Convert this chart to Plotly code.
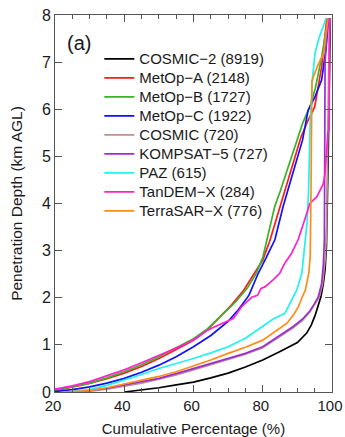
import plotly.graph_objects as go

names = ["COSMIC−2 (8919)", "MetOp−A (2148)", "MetOp−B (1727)", "MetOp−C (1922)",
         "COSMIC (720)", "KOMPSAT−5 (727)", "PAZ (615)", "TanDEM−X (284)", "TerraSAR−X (776)"]
colors = ["#000000", "#ff1a1a", "#3cb22c", "#1010ff", "#bf8f8f", "#9a2fd0", "#22f2f2", "#ff22cc", "#ff8c1a"]

cosmic2_x = [40, 45, 50, 55, 60, 65, 70, 75, 80, 85, 88, 90, 92.7, 94, 95.1, 96, 96.8, 97.5, 98.0, 98.4, 98.7, 98.9, 99.1, 99.3, 99.5]
cosmic2_y = [0, 0.04, 0.09, 0.15, 0.21, 0.3, 0.4, 0.53, 0.68, 0.86, 0.97, 1.05, 1.25, 1.42, 1.62, 1.82, 2.02, 2.3, 2.6, 3.1, 4.0, 5.0, 6.0, 7.0, 7.93]

metopa_x = [20, 25, 30, 35, 40, 45, 50, 55, 60, 64, 68, 71, 74.5, 78, 80, 82, 85, 88, 91, 93, 95, 97, 98.5]
metopa_y = [0.03, 0.1, 0.18, 0.28, 0.4, 0.54, 0.71, 0.9, 1.1, 1.32, 1.62, 1.85, 2.16, 2.55, 2.8, 3.2, 3.95, 4.7, 5.4, 5.75, 6.05, 6.9, 7.93]

metopb_x = [20, 25, 30, 35, 40, 45, 50, 55, 60, 64, 68.5, 72, 75.5, 78, 80, 81.5, 83.5, 85, 87, 89.5, 91.5, 93.6, 95.2, 97, 98.9]
metopb_y = [0.04, 0.11, 0.19, 0.3, 0.43, 0.58, 0.75, 0.94, 1.13, 1.34, 1.65, 1.9, 2.2, 2.5, 2.85, 3.3, 3.95, 4.25, 4.7, 5.3, 5.7, 6.05, 6.45, 7.1, 7.93]

metopc_x = [20, 25, 30, 35, 40, 45, 50, 55, 60, 65, 70, 73, 76, 78.7, 81, 83.5, 85.9, 88.7, 91.5, 93.1, 95, 97, 98.3, 99]
metopc_y = [0.01, 0.05, 0.11, 0.19, 0.29, 0.42, 0.57, 0.75, 0.96, 1.2, 1.5, 1.75, 2.05, 2.52, 2.85, 3.23, 3.94, 4.65, 5.35, 5.98, 6.25, 6.62, 7.3, 7.93]

cosmic_x = [25, 30, 35, 40, 45, 50, 55, 60, 65, 70, 75, 80, 85, 88.8, 91.5, 93.6, 95, 96.3, 97.3, 98.0, 98.4, 98.6, 98.8, 99.1, 99.4]
cosmic_y = [0, 0.02, 0.06, 0.12, 0.19, 0.27, 0.36, 0.47, 0.58, 0.69, 0.8, 0.94, 1.17, 1.36, 1.52, 1.7, 1.86, 2.01, 2.3, 2.8, 3.3, 4.5, 6.0, 7.2, 7.93]

kompsat_x = [25, 30, 35, 40, 45, 50, 55, 60, 65, 70, 75, 80, 85, 88.8, 91.5, 93.6, 95, 96.0, 97.0, 97.5, 97.8, 97.9, 98.0, 98.5, 99.0]
kompsat_y = [0, 0.03, 0.08, 0.15, 0.22, 0.29, 0.39, 0.5, 0.6, 0.71, 0.82, 0.96, 1.2, 1.39, 1.55, 1.72, 1.88, 2.01, 2.3, 2.7, 3.23, 4.5, 7.0, 7.6, 7.93]

paz_x = [23, 26, 30, 35, 40, 45, 50, 55, 60, 65, 70, 75, 80, 83, 86.4, 88, 89.8, 91.3, 91.8, 92.3, 92.8, 93.2, 93.5, 93.7, 94.4, 95.1, 96.2, 97, 98.3]
paz_y = [0, 0.02, 0.05, 0.14, 0.25, 0.37, 0.5, 0.6, 0.71, 0.83, 0.96, 1.14, 1.39, 1.55, 1.67, 1.9, 2.16, 2.52, 2.87, 3.23, 3.6, 4.2, 5.0, 5.7, 6.69, 7.19, 7.5, 7.68, 7.93]

tandem_x = [20, 25, 30, 35, 40, 45, 50, 55, 58, 61, 63.8, 66, 68.5, 71.5, 73.9, 76.8, 78.5, 79.5, 80.6, 83, 84.9, 86.5, 88.3, 90.2, 92.1, 93.6, 95.6, 97.5, 98.0, 98.5, 98.8, 99.2, 99.3]
tandem_y = [0.06, 0.13, 0.22, 0.34, 0.47, 0.62, 0.78, 0.93, 1.03, 1.15, 1.3, 1.38, 1.46, 1.56, 1.81, 2.01, 2.05, 2.2, 2.23, 2.38, 2.52, 2.75, 2.94, 3.23, 3.65, 4.0, 4.14, 4.42, 4.65, 5.3, 5.5, 5.6, 7.93]

terrasar_x = [22.5, 26, 30, 35, 40, 45, 50, 55, 60, 65, 70, 75, 80, 84, 87, 89, 90.3, 91.3, 92.3, 93.3, 93.7, 93.9, 94, 94.2, 95.7, 97.6, 98.3, 98.8]
terrasar_y = [0, 0.01, 0.03, 0.09, 0.17, 0.25, 0.33, 0.43, 0.55, 0.68, 0.82, 0.95, 1.1, 1.3, 1.46, 1.65, 1.81, 2.0, 2.16, 2.52, 2.87, 4.0, 5.35, 6.6, 6.9, 7.19, 7.6, 7.93]

xs = [cosmic2_x, metopa_x, metopb_x, metopc_x, cosmic_x, kompsat_x, paz_x, tandem_x, terrasar_x]
ys = [cosmic2_y, metopa_y, metopb_y, metopc_y, cosmic_y, kompsat_y, paz_y, tandem_y, terrasar_y]

x_ticks = [20, 40, 60, 80, 100]
y_ticks = [0, 1, 2, 3, 4, 5, 6, 7, 8]

fig = go.Figure()
for n, c, x, y in zip(names, colors, xs, ys):
    fig.add_trace(go.Scatter(x=x, y=y, mode="lines",
                             name='<span style="font-size:15px">' + n + '</span>',
                             line=dict(color=c, width=1.7)))

font = "Liberation Sans, Arial, Helvetica, sans-serif"
axcol = "#555555"
txt = "#1a1a1a"
fig.update_layout(
    width=345, height=437,
    margin=dict(l=55, r=13, t=15, b=45, autoexpand=False),
    paper_bgcolor="white", plot_bgcolor="white",
    font=dict(family=font, size=15, color=txt),
    showlegend=True,
    legend=dict(x=0.16, xanchor="left", y=0.922, yanchor="top",
                bgcolor="rgba(0,0,0,0)", font=dict(size=12, color=txt),
                itemwidth=30, tracegroupgap=0),
    xaxis=dict(range=[20, 100], tickvals=x_ticks, ticks="inside", ticklen=7,
               tickcolor=axcol, showline=True, linecolor=axcol, linewidth=1,
               mirror="allticks", showgrid=False, zeroline=False, automargin=False,
               ticklabeloverflow="allow", ticklabelshift=-2,
               tickfont=dict(size=15), title=dict(text="Cumulative Percentage (%)", font=dict(size=15)),
               minor=dict(dtick=5, tick0=20, ticks="inside", ticklen=4, tickcolor=axcol, showgrid=False)),
    yaxis=dict(range=[0, 8], tickvals=y_ticks, ticks="inside", ticklen=7,
               tickcolor=axcol, showline=True, linecolor=axcol, linewidth=1,
               mirror="allticks", showgrid=False, zeroline=False, automargin=False,
               ticksuffix="\u00a0",
               tickfont=dict(size=16), title=dict(text="Penetration Depth (km AGL)", font=dict(size=15.5))),
    annotations=[dict(text="(a)", x=0.035, y=0.925, xref="paper", yref="paper",
                      xanchor="left", yanchor="middle", showarrow=False,
                      font=dict(size=20, color=txt))],
)

post = (
    "document.body.style.margin='0';document.body.style.padding='0';"
    "document.documentElement.style.overflow='hidden';"
    "var gd=document.getElementById('{plot_id}');"
    "Plotly.relayout(gd, {'xaxis.ticklabeloverflow':'allow'});"
)
fig.write_html("out.html", config={"displayModeBar": False}, post_script=post)
